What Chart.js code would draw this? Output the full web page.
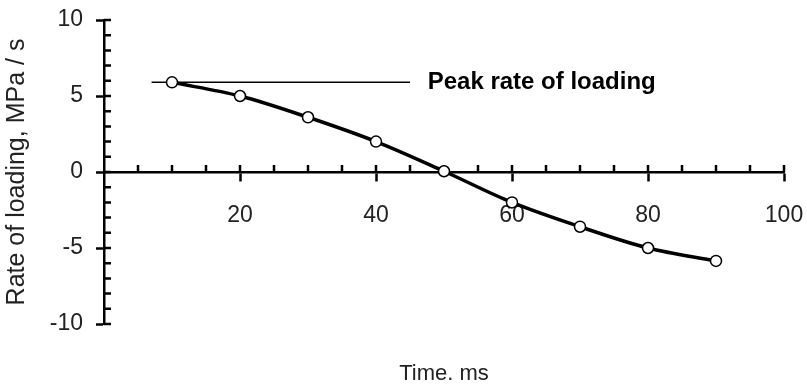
<!DOCTYPE html>
<html>
<head>
<meta charset="utf-8">
<script src="https://cdn.jsdelivr.net/npm/chart.js@4.4.1/dist/chart.umd.min.js"></script>
<style>
  body { margin: 0; background: #fff; }
  canvas { display: block; }
</style>
</head>
<body>
<canvas id="chart" width="807" height="388"></canvas>
<script>

// values
const times = [10, 20, 30, 40, 50, 60, 70, 80, 90];
const rates = [5.9, 5.0, 3.6, 2.0, 0.05, -2.0, -3.6, -5.0, -5.85];

const xTicks = [20, 40, 60, 80, 100];
const yTicks = [-10, -5, 0, 5, 10];

const peakX = [7, 45];
const peakY = [5.9, 5.9];
const peakLabel = "Peak rate of loading";
const xTitle = "Time. ms";


const font = "'Liberation Sans', Arial, sans-serif";


// minor ticks, annotation text, x title
const extras = {
    id: "extras",
    beforeDatasetsDraw(chart) {
        const ctx = chart.ctx;
        const x = chart.scales.x;
        const y = chart.scales.y;
        const x0 = x.getPixelForValue(0);
        const y0 = y.getPixelForValue(0);

        ctx.save();
        ctx.strokeStyle = "#000";
        ctx.lineWidth = 2.5;
        ctx.beginPath();

        // x: upward minor ticks every 5
        for (let v = 5; v <= 100; v += 5) {
            let px = x.getPixelForValue(v);
            ctx.moveTo(px, y0);
            ctx.lineTo(px, y0 - 7);
        }

        // y: minor ticks every 1 to the right
        for (let v = -10; v <= 10; v += 1) {
            let py = y.getPixelForValue(v);
            ctx.moveTo(x0, py);
            ctx.lineTo(x0 + 7, py);
        }

        ctx.stroke();
        ctx.restore();
    },
    afterDatasetsDraw(chart) {
        const ctx = chart.ctx;
        const area = chart.chartArea;
        const px = chart.scales.x.getPixelForValue(peakX[1] + 2.6);
        const py = chart.scales.y.getPixelForValue(peakY[1]);

        ctx.save();
        ctx.fillStyle = "#000";
        ctx.font = "bold 24px " + font;
        ctx.textAlign = "left";
        ctx.textBaseline = "middle";
        ctx.fillText(peakLabel, px, py);

        ctx.fillStyle = "#222";
        ctx.font = "22px " + font;
        ctx.textAlign = "center";
        ctx.fillText(xTitle, (area.left + area.right) / 2, area.bottom + 50);
        ctx.restore();
    }
};


new Chart(document.getElementById("chart"), {

    type: "scatter",

    data: {
        datasets: [
            {
                data: times.map((t, i) => ({ x: t, y: rates[i] })),
                showLine: true,
                borderColor: "#000",
                borderWidth: 3.5,
                cubicInterpolationMode: "monotone",
                pointRadius: 5.5,
                pointBackgroundColor: "#fff",
                pointBorderColor: "#000",
                pointBorderWidth: 1.5
            },
            {
                data: peakX.map((t, i) => ({ x: t, y: peakY[i] })),
                showLine: true,
                borderColor: "#000",
                borderWidth: 1.5,
                pointRadius: 0
            }
        ]
    },

    options: {
        responsive: false,
        animation: false,
        devicePixelRatio: 1,
        layout: {
            autoPadding: false,
            padding: { top: 20, right: 23, left: 0, bottom: 64 }
        },
        plugins: {
            legend: { display: false },
            tooltip: { enabled: false },
            title: { display: false }
        },
        scales: {
            x: {
                type: "linear",
                position: { y: 0 },
                min: 0,
                max: 100,
                afterBuildTicks: (s) => { s.ticks = xTicks.map(v => ({ value: v })); },
                afterFit: (s) => {
                    s.height = 0;
                    s.paddingLeft = 0;
                    s.paddingRight = 0;
                    s.paddingTop = 0;
                    s.paddingBottom = 0;
                },
                ticks: {
                    color: "#222",
                    font: { family: font, size: 23 },
                    padding: 22,
                    maxRotation: 0
                },
                grid: {
                    drawOnChartArea: false,
                    tickLength: 8,
                    tickColor: "#000",
                    tickWidth: 2.5
                },
                border: { color: "#000", width: 2.5 }
            },
            y: {
                min: -10,
                max: 10,
                afterBuildTicks: (s) => { s.ticks = yTicks.map(v => ({ value: v })); },
                afterFit: (s) => {
                    s.width = 104;
                    s.paddingTop = 0;
                    s.paddingBottom = 0;
                },
                ticks: {
                    color: "#222",
                    font: { family: font, size: 23 },
                    padding: 13
                },
                grid: {
                    drawOnChartArea: false,
                    tickLength: 8,
                    tickColor: "#000",
                    tickWidth: 2.5
                },
                border: { color: "#000", width: 2.5 },
                title: {
                    display: true,
                    text: "Rate of loading, MPa / s",
                    color: "#222",
                    font: { family: font, size: 25 },
                    padding: { top: 2, bottom: 0 }
                }
            }
        }
    },

    plugins: [extras]

});

</script>
</body>
</html>
